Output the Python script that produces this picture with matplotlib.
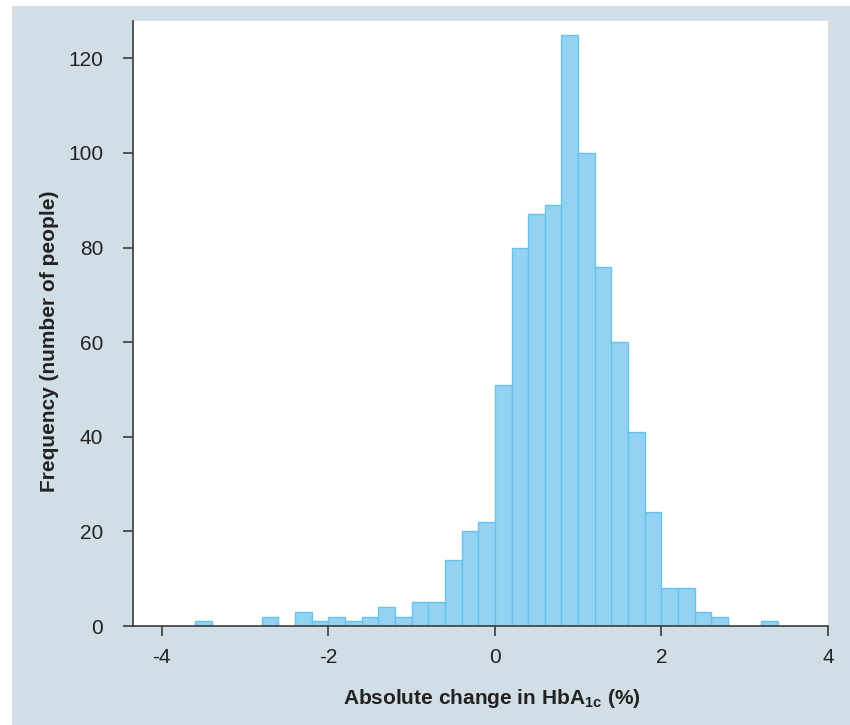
import matplotlib
matplotlib.use('Agg')
import matplotlib.pyplot as plt
from matplotlib.patches import Rectangle

plt.rcParams['font.family'] = ['Liberation Sans', 'DejaVu Sans']
plt.rcParams['axes.unicode_minus'] = False
plt.rcParams['mathtext.fontset'] = 'custom'
plt.rcParams['mathtext.rm'] = 'Liberation Sans'
plt.rcParams['mathtext.bf'] = 'Liberation Sans:bold'

# ── Data: left edge of each non-empty bin (width 0.2) and its count ──
bin_left = [-3.6, -2.8, -2.4, -2.2, -2.0, -1.8, -1.6, -1.4, -1.2, -1.0,
            -0.8, -0.6, -0.4, -0.2, 0.0, 0.2, 0.4, 0.6, 0.8, 1.0,
            1.2, 1.4, 1.6, 1.8, 2.0, 2.2, 2.4, 2.6, 3.2]
counts = [1, 2, 3, 1, 2, 1, 2, 4, 2, 5,
          5, 14, 20, 22, 51, 80, 87, 89, 125, 100,
          76, 60, 41, 24, 8, 8, 3, 2, 1]
bin_width = 0.2

x_ticks = [-4, -2, 0, 2, 4]
y_ticks = [0, 20, 40, 60, 80, 100, 120]

BG = '#d2dee6'
FILL = '#93d2f2'
EDGE = '#68c2ec'
AXC = '#3a3a3a'
FS = 15

fig = plt.figure(figsize=(8.5, 7.25), dpi=100)
fig.patch.set_facecolor('white')
fig.patches.append(Rectangle((12 / 850, 0), 1, 1 - 6 / 725,
                             transform=fig.transFigure, facecolor=BG,
                             edgecolor='none', zorder=-10))

ax = fig.add_axes([133 / 850, 1 - 626 / 725, 695 / 850, 605 / 725])
ax.set_facecolor('white')

ax.bar(bin_left, counts, width=bin_width, align='edge',
       color=FILL, edgecolor=EDGE, linewidth=1.0)

ax.set_xlim(-4.345, 4.0)
ax.set_ylim(0, 127.9)
ax.set_xticks(x_ticks)
ax.set_yticks(y_ticks)

ax.spines[['top', 'right']].set_visible(False)
for s in ['left', 'bottom']:
    ax.spines[s].set_color(AXC)
    ax.spines[s].set_linewidth(1.2)

ax.tick_params(axis='both', direction='out', length=7.5, width=1.2,
               color=AXC, labelsize=FS, labelcolor='#222222')
ax.tick_params(axis='y', pad=14)
ax.tick_params(axis='x', pad=8)

fig.text(492 / 850, 1 - 698 / 725,
         r'Absolute change in HbA$_{\mathbf{1c}}$ (%)',
         ha='center', va='center', fontsize=FS, fontweight='bold',
         color='#222222')
fig.text(50 / 850, 1 - 341 / 725, 'Frequency (number of people)',
         rotation=90, ha='center', va='center', fontsize=FS,
         fontweight='bold', color='#222222')

fig.savefig('out.png', dpi=100)
plt.close(fig)
